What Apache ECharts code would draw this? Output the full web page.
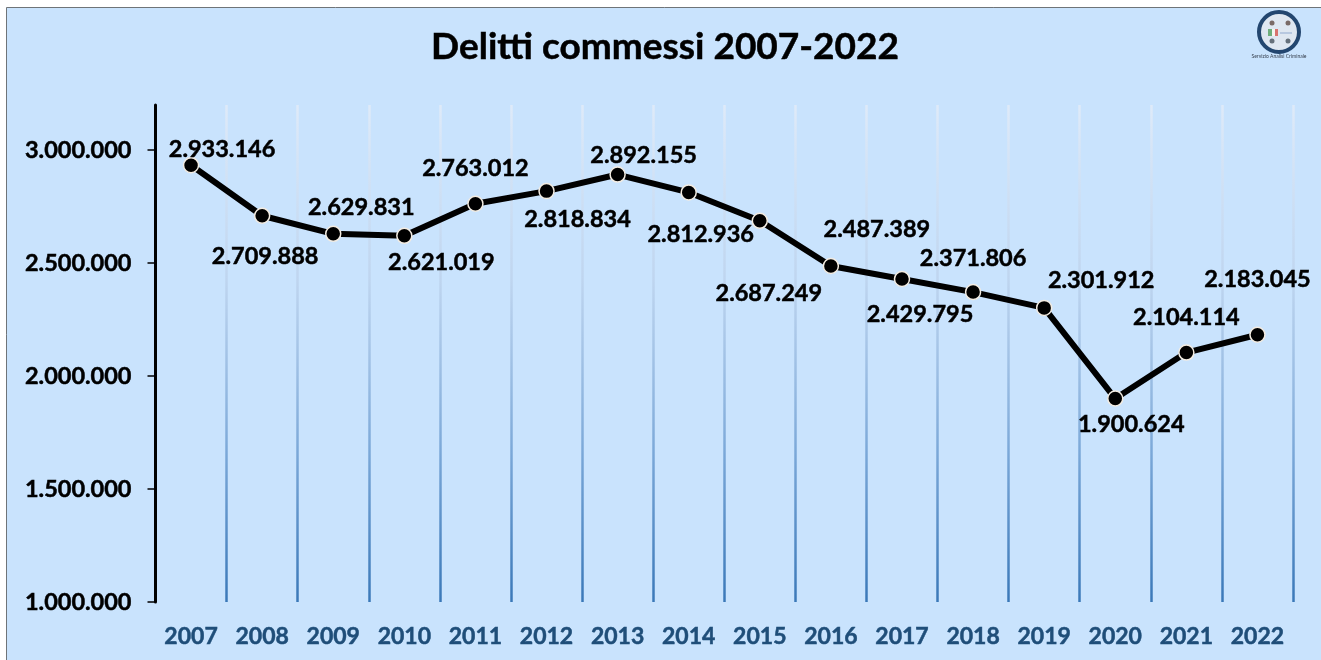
<!DOCTYPE html>
<html><head><meta charset="utf-8">
<style>html,body{margin:0;padding:0;background:#fff}#c{width:1321px;height:660px}</style>
<script src="https://cdn.jsdelivr.net/npm/echarts@6/dist/echarts.min.js"></script>
</head><body><div id="c"></div>
<script>
const years = ['2007','2008','2009','2010','2011','2012','2013','2014','2015','2016','2017','2018','2019','2020','2021','2022'];
const crimes = [2933146,2709888,2629831,2621019,2763012,2818834,2892155,2812936,2687249,2487389,2429795,2371806,2301912,1900624,2104114,2183045];
const yTicks = [1000000,1500000,2000000,2500000,3000000];
const labelOffsets = [[31,-16],[3,41],[28,-26],[37,27],[0,-35],[31,28],[26,-19],[12,42],[9,73],[46,-37],[18,35],[0,-34],[57,-27],[16,26],[0,-35],[0,-55]];
const fontFam = 'Lato, "Open Sans", sans-serif';
const fmt = v => String(v).replace(/\B(?=(\d{3})+$)/g,'.');
const chart = echarts.init(document.getElementById('c'),null,{renderer:'canvas'});
const heavy = c => ({textBorderColor:c,textBorderWidth:0.5});
chart.setOption({
  animation:false,
  backgroundColor:'#ffffff',
  title:{text:'Delitti commessi 2007-2022',left:660,top:24,textAlign:'center',
    textStyle:Object.assign({fontFamily:fontFam,fontWeight:'bold',fontSize:37,color:'#000'},heavy('#000'))},
  grid:{left:155.5,right:28,top:105,bottom:58,containLabel:false},
  graphic:[
    {type:'rect',z:-10,silent:true,shape:{x:6.5,y:7.5,width:1330,height:670},
      style:{fill:'#c9e3fd',stroke:'#6f7478',lineWidth:1}},
    {type:'circle',z:1,silent:true,shape:{cx:1279,cy:32,r:20},style:{fill:'#dfe7f1',stroke:'#23466f',lineWidth:4}},
    {type:'rect',z:2,silent:true,shape:{x:1268,y:29,width:4,height:7},style:{fill:'#6fae7c'}},
    {type:'rect',z:2,silent:true,shape:{x:1272,y:29,width:3,height:7},style:{fill:'#f5f5f0'}},
    {type:'rect',z:2,silent:true,shape:{x:1275,y:29,width:3,height:7},style:{fill:'#d9736f'}},
    {type:'rect',z:2,silent:true,shape:{x:1280,y:32,width:12,height:2},style:{fill:'#b8c8e0'}},
    {type:'circle',z:2,silent:true,shape:{cx:1272,cy:23,r:2.5},style:{fill:'#7a6a66'}},
    {type:'circle',z:2,silent:true,shape:{cx:1288,cy:23,r:2.5},style:{fill:'#7a6a66'}},
    {type:'circle',z:2,silent:true,shape:{cx:1272,cy:41,r:2.5},style:{fill:'#66707b'}},
    {type:'circle',z:2,silent:true,shape:{cx:1288,cy:41,r:2.5},style:{fill:'#66707b'}},
    {type:'text',z:2,silent:true,x:1279,y:56,style:{text:'Servizio Analisi Criminale',align:'center',verticalAlign:'middle',
      font:'5px '+fontFam,fill:'#333c4a'}}
  ],
  xAxis:{type:'category',data:years,boundaryGap:true,
    axisLine:{show:false},axisTick:{show:false},
    axisLabel:Object.assign({margin:23,interval:0,color:'#1f4e79',fontFamily:fontFam,fontWeight:'bold',fontSize:23},heavy('#1f4e79')),
    splitLine:{show:true,showMinLine:false,interval:0,lineStyle:{width:2.5,
      color:new echarts.graphic.LinearGradient(0,105,0,602,[
        {offset:0,color:'rgba(225,235,248,0.9)'},
        {offset:0.35,color:'rgba(190,212,238,0.9)'},
        {offset:0.7,color:'#7ba8d8'},
        {offset:1,color:'#3a78b8'}],true)}}
  },
  yAxis:{type:'value',min:1000000,max:3200000,interval:500000,
    axisLine:{show:true,lineStyle:{color:'#000',width:3}},
    axisTick:{show:true,length:8,customValues:yTicks,lineStyle:{color:'#000',width:1.5}},
    axisLabel:Object.assign({margin:24,customValues:yTicks,color:'#000',fontFamily:fontFam,fontWeight:'bold',fontSize:23.5,formatter:v=>fmt(v)},heavy('#000')),
    splitLine:{show:false}
  },
  series:[{type:'line',data:crimes.map((v,i)=>({value:v,label:{offset:labelOffsets[i]}})),
    symbol:'circle',symbolSize:15,showSymbol:true,z:5,
    lineStyle:{color:'#000',width:6,cap:'round',join:'round'},
    itemStyle:{color:'#000',borderColor:'#f3ece2',borderWidth:1.5},
    label:Object.assign({show:true,position:'inside',align:'center',verticalAlign:'middle',color:'#000',
      fontFamily:fontFam,fontWeight:'bold',fontSize:23.5,formatter:p=>fmt(p.value)},heavy('#000')),
    emphasis:{disabled:true}
  }]
});
</script></body></html>
